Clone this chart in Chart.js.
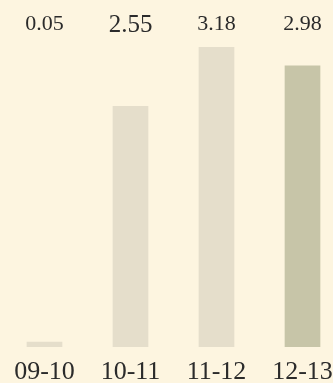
<!DOCTYPE html>
<html><head><meta charset="utf-8">
<script src="https://cdn.jsdelivr.net/npm/chart.js@4"></script>
<style>
html,body{margin:0;padding:0;background:#FDF5E0;overflow:hidden;width:333px;height:383px;}
#wrap{position:absolute;left:0;top:0;width:350px;height:383px;}
</style></head><body>
<div id="wrap"><canvas id="c" width="350" height="383"></canvas></div>
<script>
const categories = ["09-10", "10-11", "11-12", "12-13"];
const values = [0.05, 2.55, 3.18, 2.98];
const valueLabels = ["0.05", "2.55", "3.18", "2.98"];
const barColors = ["#E5DECB", "#E5DECB", "#E5DECB", "#C7C5A8"];

const topLabels = {
  id: 'topLabels',
  afterDatasetsDraw(chart) {
    const ctx = chart.ctx;
    const xs = chart.scales.x;
    ctx.save();
    ctx.fillStyle = '#2b2b2b';
    ctx.textAlign = 'center';
    ctx.textBaseline = 'alphabetic';
    valueLabels.forEach((t, i) => {
      const big = i === 1;
      ctx.font = (big ? '25px' : '22px') + ' "Liberation Serif", serif';
      ctx.fillText(t, xs.getPixelForValue(i), big ? 31.5 : 30);
    });
    ctx.restore();
  }
};

new Chart(document.getElementById('c'), {
  type: 'bar',
  data: {
    labels: categories,
    datasets: [{
      data: values,
      backgroundColor: barColors,
      borderWidth: 0,
      barThickness: 35,
      minBarLength: 5
    }]
  },
  options: {
    responsive: false,
    animation: false,
    events: [],
    layout: { padding: { left: 1.5, right: 4.5, top: 47, bottom: 0 } },
    plugins: { legend: { display: false }, tooltip: { enabled: false } },
    scales: {
      x: {
        grid: { display: false, drawTicks: false },
        border: { display: false },
        ticks: { color: '#2b2b2b', padding: 10, maxRotation: 0, autoSkip: false, font: { family: '"Liberation Serif", serif', size: 26, lineHeight: 1.2 } },
        afterFit(scale) { scale.height = 36; scale.paddingLeft = 0; scale.paddingRight = 0; }
      },
      y: {
        display: false,
        min: 0,
        max: 3.18
      }
    }
  },
  plugins: [topLabels]
});
</script>
</body></html>
